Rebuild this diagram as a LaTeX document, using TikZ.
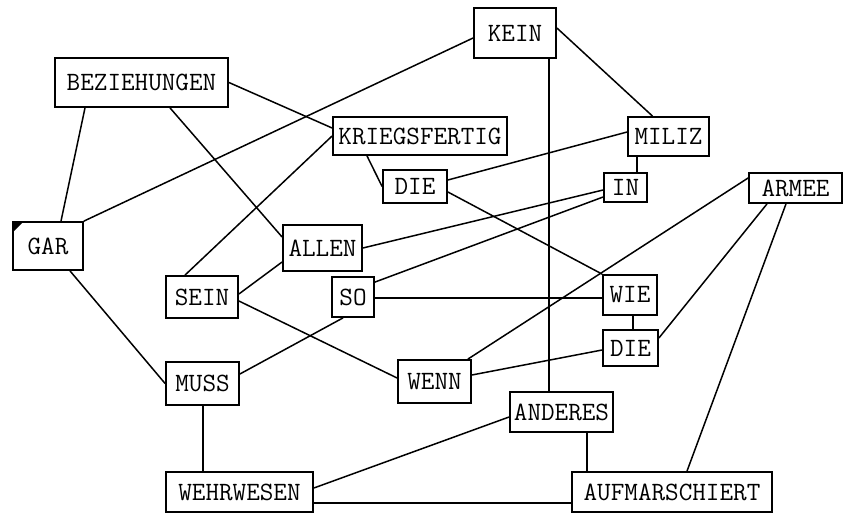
\documentclass[tikz,border=0pt]{standalone}
\begin{document}
\begin{tikzpicture}[x=1pt, y=-1pt,
    wort/.style={draw, line width=1.8pt, inner sep=0pt, font=\fontsize{26.4}{26.4}\selectfont\ttfamily},
    kante/.style={line width=1.5pt}]
    \useasboundingbox (0,0) rectangle (847,513);
    % Woerter
    \node[wort, minimum width=82pt, minimum height=50pt] (kein) at (515,33) {KEIN};
    \node[wort, minimum width=173pt, minimum height=49pt] (bez) at (141.5,82.5) {BEZIEHUNGEN};
    \node[wort, minimum width=174pt, minimum height=38pt] (krieg) at (420,136) {KRIEGSFERTIG};
    \node[wort, minimum width=64pt, minimum height=33pt] (dieA) at (415,186.5) {DIE};
    \node[wort, minimum width=81pt, minimum height=39pt] (miliz) at (668.5,136.5) {MILIZ};
    \node[wort, minimum width=43pt, minimum height=29pt] (in) at (625.5,187.5) {IN};
    \node[wort, minimum width=93pt, minimum height=30pt] (armee) at (795.5,188) {ARMEE};
    \node[wort, minimum width=70pt, minimum height=48pt] (gar) at (48,246) {GAR};
    \node[wort, minimum width=79pt, minimum height=46pt] (allen) at (322.5,248) {ALLEN};
    \node[wort, minimum width=72pt, minimum height=42pt] (sein) at (202,297) {SEIN};
    \node[wort, minimum width=42pt, minimum height=40pt] (so) at (353,297) {SO};
    \node[wort, minimum width=54pt, minimum height=40pt] (wie) at (630,295) {WIE};
    \node[wort, minimum width=55pt, minimum height=36pt] (dieB) at (630.5,348) {DIE};
    \node[wort, minimum width=73pt, minimum height=43pt] (muss) at (202.5,383.5) {MUSS};
    \node[wort, minimum width=73pt, minimum height=43pt] (wenn) at (434.5,381.5) {WENN};
    \node[wort, minimum width=103pt, minimum height=40pt] (anderes) at (561.5,412) {ANDERES};
    \node[wort, minimum width=147pt, minimum height=40pt] (wehr) at (239.5,492) {WEHRWESEN};
    \node[wort, minimum width=200pt, minimum height=40pt] (aufm) at (672,492) {AUFMARSCHIERT};
    \fill (gar.north west) -- ++(12,0) -- ++(-12,12) -- cycle;
    % Kanten
    \draw[kante] ([yshift=-5pt]kein.west) -- (gar.north east);
    \draw[kante] ([yshift=5pt]kein.east) -- ([xshift=-16pt]miliz.north);
    \draw[kante] ([xshift=34pt]kein.south) coordinate (k) -- (k |- anderes.north);
    \draw[kante] ([xshift=-56.5pt]bez.south) -- ([xshift=13pt]gar.north);
    \draw[kante] (bez.east) -- ([yshift=8pt]krieg.west);
    \draw[kante] ([xshift=28.5pt]bez.south) -- ([yshift=11pt]allen.west);
    \draw[kante] (krieg.west) -- ([xshift=-17pt]sein.north);
    \draw[kante] ([xshift=-53pt]krieg.south) -- (dieA.west);
    \draw[kante] ([yshift=6.5pt]dieA.east) -- ([yshift=4.5pt]miliz.west);
    \draw[kante] ([yshift=-5.5pt]dieA.east) -- (wie.north west);
    \draw[kante] ([xshift=-31.5pt]miliz.south) coordinate (m) -- (m |- in.north);
    \draw[kante] ([yshift=-2.5pt]in.west) -- (allen.east);
    \draw[kante] ([yshift=-9.5pt]in.west) -- ([yshift=-6pt]so.north east);
    \draw[kante] ([yshift=-14pt]allen.west) -- ([yshift=3pt]sein.east);
    \draw[kante] ([yshift=-4pt]sein.east) -- ([yshift=3.5pt]wenn.west);
    \draw[kante] ([yshift=-1pt]so.east) coordinate (s) -- (s -| wie.west);
    \draw[kante] ([xshift=-10pt]so.south) -- ([yshift=9.5pt]muss.east);
    \draw[kante] ([xshift=22pt]gar.south) -- (muss.west);
    \draw[kante] ([yshift=10pt]armee.west) -- ([xshift=-4pt]wenn.north east);
    \draw[kante] ([xshift=-28.5pt]armee.south) -- ([yshift=10pt]dieB.east);
    \draw[kante] ([xshift=-9.5pt]armee.south) -- ([xshift=15pt]aufm.north);
    \draw[kante] ([xshift=3pt]wie.south) coordinate (w) -- (w |- dieB.north);
    \draw[kante] ([yshift=-2pt]dieB.west) -- ([yshift=6.5pt]wenn.east);
    \draw[kante] ([xshift=0.5pt]muss.south) coordinate (u) -- (u |- wehr.north);
    \draw[kante] ([yshift=4pt]wehr.east) -- ([yshift=-5pt]anderes.west);
    \draw[kante] ([yshift=-11pt]wehr.east) coordinate (h) -- (h -| aufm.west);
    \draw[kante] ([xshift=25.5pt]anderes.south) coordinate (a) -- (a |- aufm.north);
\end{tikzpicture}
\end{document}
